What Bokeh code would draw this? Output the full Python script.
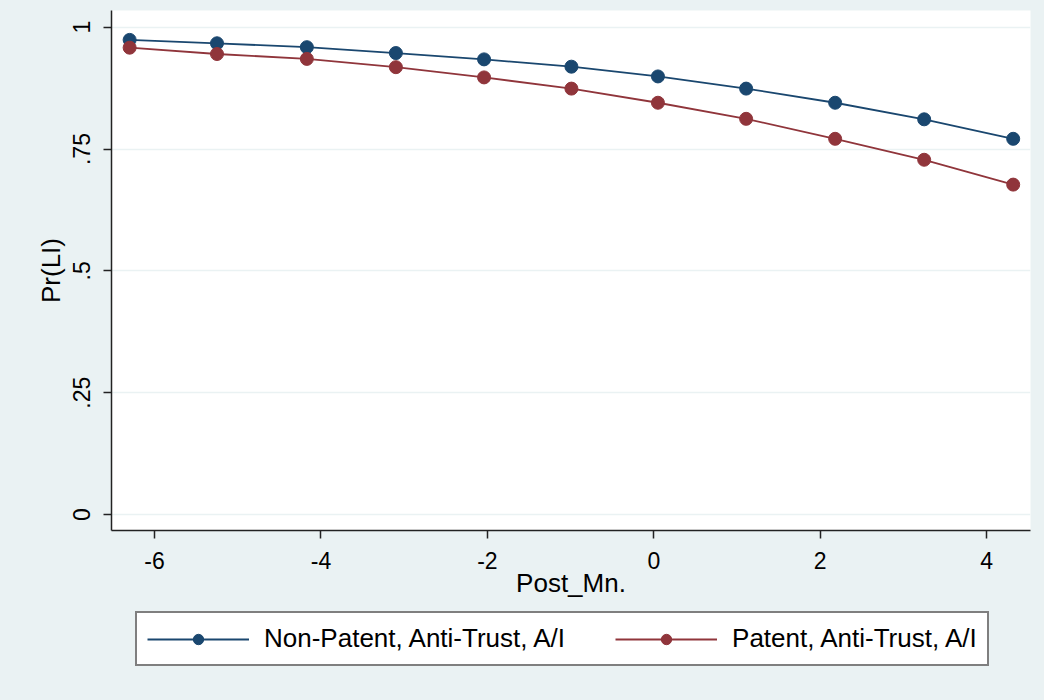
from bokeh.plotting import figure
from bokeh.layouts import column
from bokeh.models import Range1d, FixedTicker, Legend, LegendItem
from bokeh.embed import file_html
from bokeh.resources import INLINE

# Data
post_mn = [-6.30, -5.25, -4.17, -3.10, -2.04, -0.99, 0.05, 1.11, 2.18, 3.25, 4.32]
non_patent = [0.974, 0.967, 0.959, 0.947, 0.934, 0.919, 0.899, 0.874, 0.845, 0.811, 0.771]
patent = [0.958, 0.945, 0.935, 0.918, 0.897, 0.874, 0.845, 0.812, 0.771, 0.728, 0.677]
series_names = ["Non-Patent, Anti-Trust, A/I", "Patent, Anti-Trust, A/I"]
x_ticks = [-6, -4, -2, 0, 2, 4]
x_tick_labels = ["-6", "-4", "-2", "0", "2", "4"]
y_ticks = [0, 0.25, 0.5, 0.75, 1]
y_tick_labels = ["0", ".25", ".5", ".75", "1"]

BG = "#EAF2F3"
BLUE = "#1A476F"
RED = "#90353B"
FONT = "Liberation Sans"

# ---------------- main plot ----------------
p = figure(width=1044, height=610, output_backend="svg", toolbar_location=None,
           x_range=Range1d(-6.518, 4.528), y_range=Range1d(-0.0328, 1.0343),
           min_border_left=111, min_border_right=14, min_border_top=10, min_border_bottom=80)
p.border_fill_color = BG
p.background_fill_color = "white"
p.outline_line_color = None

p.xgrid.visible = False
p.ygrid.ticker = FixedTicker(ticks=y_ticks)
p.ygrid.grid_line_color = BG
p.ygrid.grid_line_width = 1.5

for ax in (p.xaxis[0], p.yaxis[0]):
    ax.axis_line_color = "#222222"
    ax.axis_line_width = 1.5
    ax.major_tick_line_color = "#222222"
    ax.major_tick_line_width = 1.5
    ax.major_tick_out = 8
    ax.major_tick_in = 0
    ax.minor_tick_line_color = None
    ax.major_label_text_font = FONT
    ax.major_label_text_font_size = "23px"
    ax.major_label_text_color = "black"
    ax.axis_label_text_font = FONT
    ax.axis_label_text_font_size = "26px"
    ax.axis_label_text_font_style = "normal"
    ax.axis_label_text_color = "black"

p.xaxis.ticker = FixedTicker(ticks=x_ticks)
p.xaxis.major_label_overrides = dict(zip(x_ticks, x_tick_labels))
p.xaxis.axis_label = "Post_Mn."
p.xaxis.major_label_standoff = 13
p.xaxis.axis_label_standoff = -4

p.yaxis.ticker = FixedTicker(ticks=y_ticks)
p.yaxis.major_label_overrides = dict(zip(y_ticks, y_tick_labels))
p.yaxis.major_label_orientation = "vertical"
p.yaxis.axis_label = "Pr(LI)"
p.yaxis.major_label_standoff = 13
p.yaxis.axis_label_standoff = 5

p.line(post_mn, non_patent, line_color=BLUE, line_width=1.8)
p.scatter(post_mn, non_patent, marker="circle", size=13, fill_color=BLUE, line_color=BLUE)
p.line(post_mn, patent, line_color=RED, line_width=1.8)
p.scatter(post_mn, patent, marker="circle", size=13, fill_color=RED, line_color=RED)

# ---------------- legend strip ----------------
# Same series drawn in a strip whose ranges keep them out of view; only the legend shows.
q = figure(width=1044, height=90, output_backend="svg", toolbar_location=None,
           x_axis_type=None, y_axis_type=None,
           x_range=Range1d(100, 101), y_range=Range1d(100, 101),
           min_border_left=0, min_border_right=0, min_border_top=0, min_border_bottom=0)
q.border_fill_color = BG
q.background_fill_color = None
q.outline_line_color = None
q.grid.visible = False

ql1 = q.line(post_mn, non_patent, line_color=BLUE, line_width=1.8)
qs1 = q.scatter(post_mn, non_patent, marker="circle", size=13, fill_color=BLUE, line_color=BLUE)
ql2 = q.line(post_mn, patent, line_color=RED, line_width=1.8)
qs2 = q.scatter(post_mn, patent, marker="circle", size=13, fill_color=RED, line_color=RED)

legend = Legend(items=[LegendItem(label=series_names[0], renderers=[ql1, qs1]),
                       LegendItem(label=series_names[1], renderers=[ql2, qs2])],
                orientation="horizontal", location=(24, 34),
                label_text_font=FONT, label_text_font_size="26px", label_text_color="black",
                border_line_color="black", border_line_width=2,
                background_fill_color="white", background_fill_alpha=1.0,
                glyph_width=102, glyph_height=26, label_standoff=15, spacing=50,
                padding=10, margin=0)
q.add_layout(legend, "center")

layout = column(p, q, spacing=0, styles={"background-color": BG})
open("out.html", "w").write(file_html(layout, INLINE))
